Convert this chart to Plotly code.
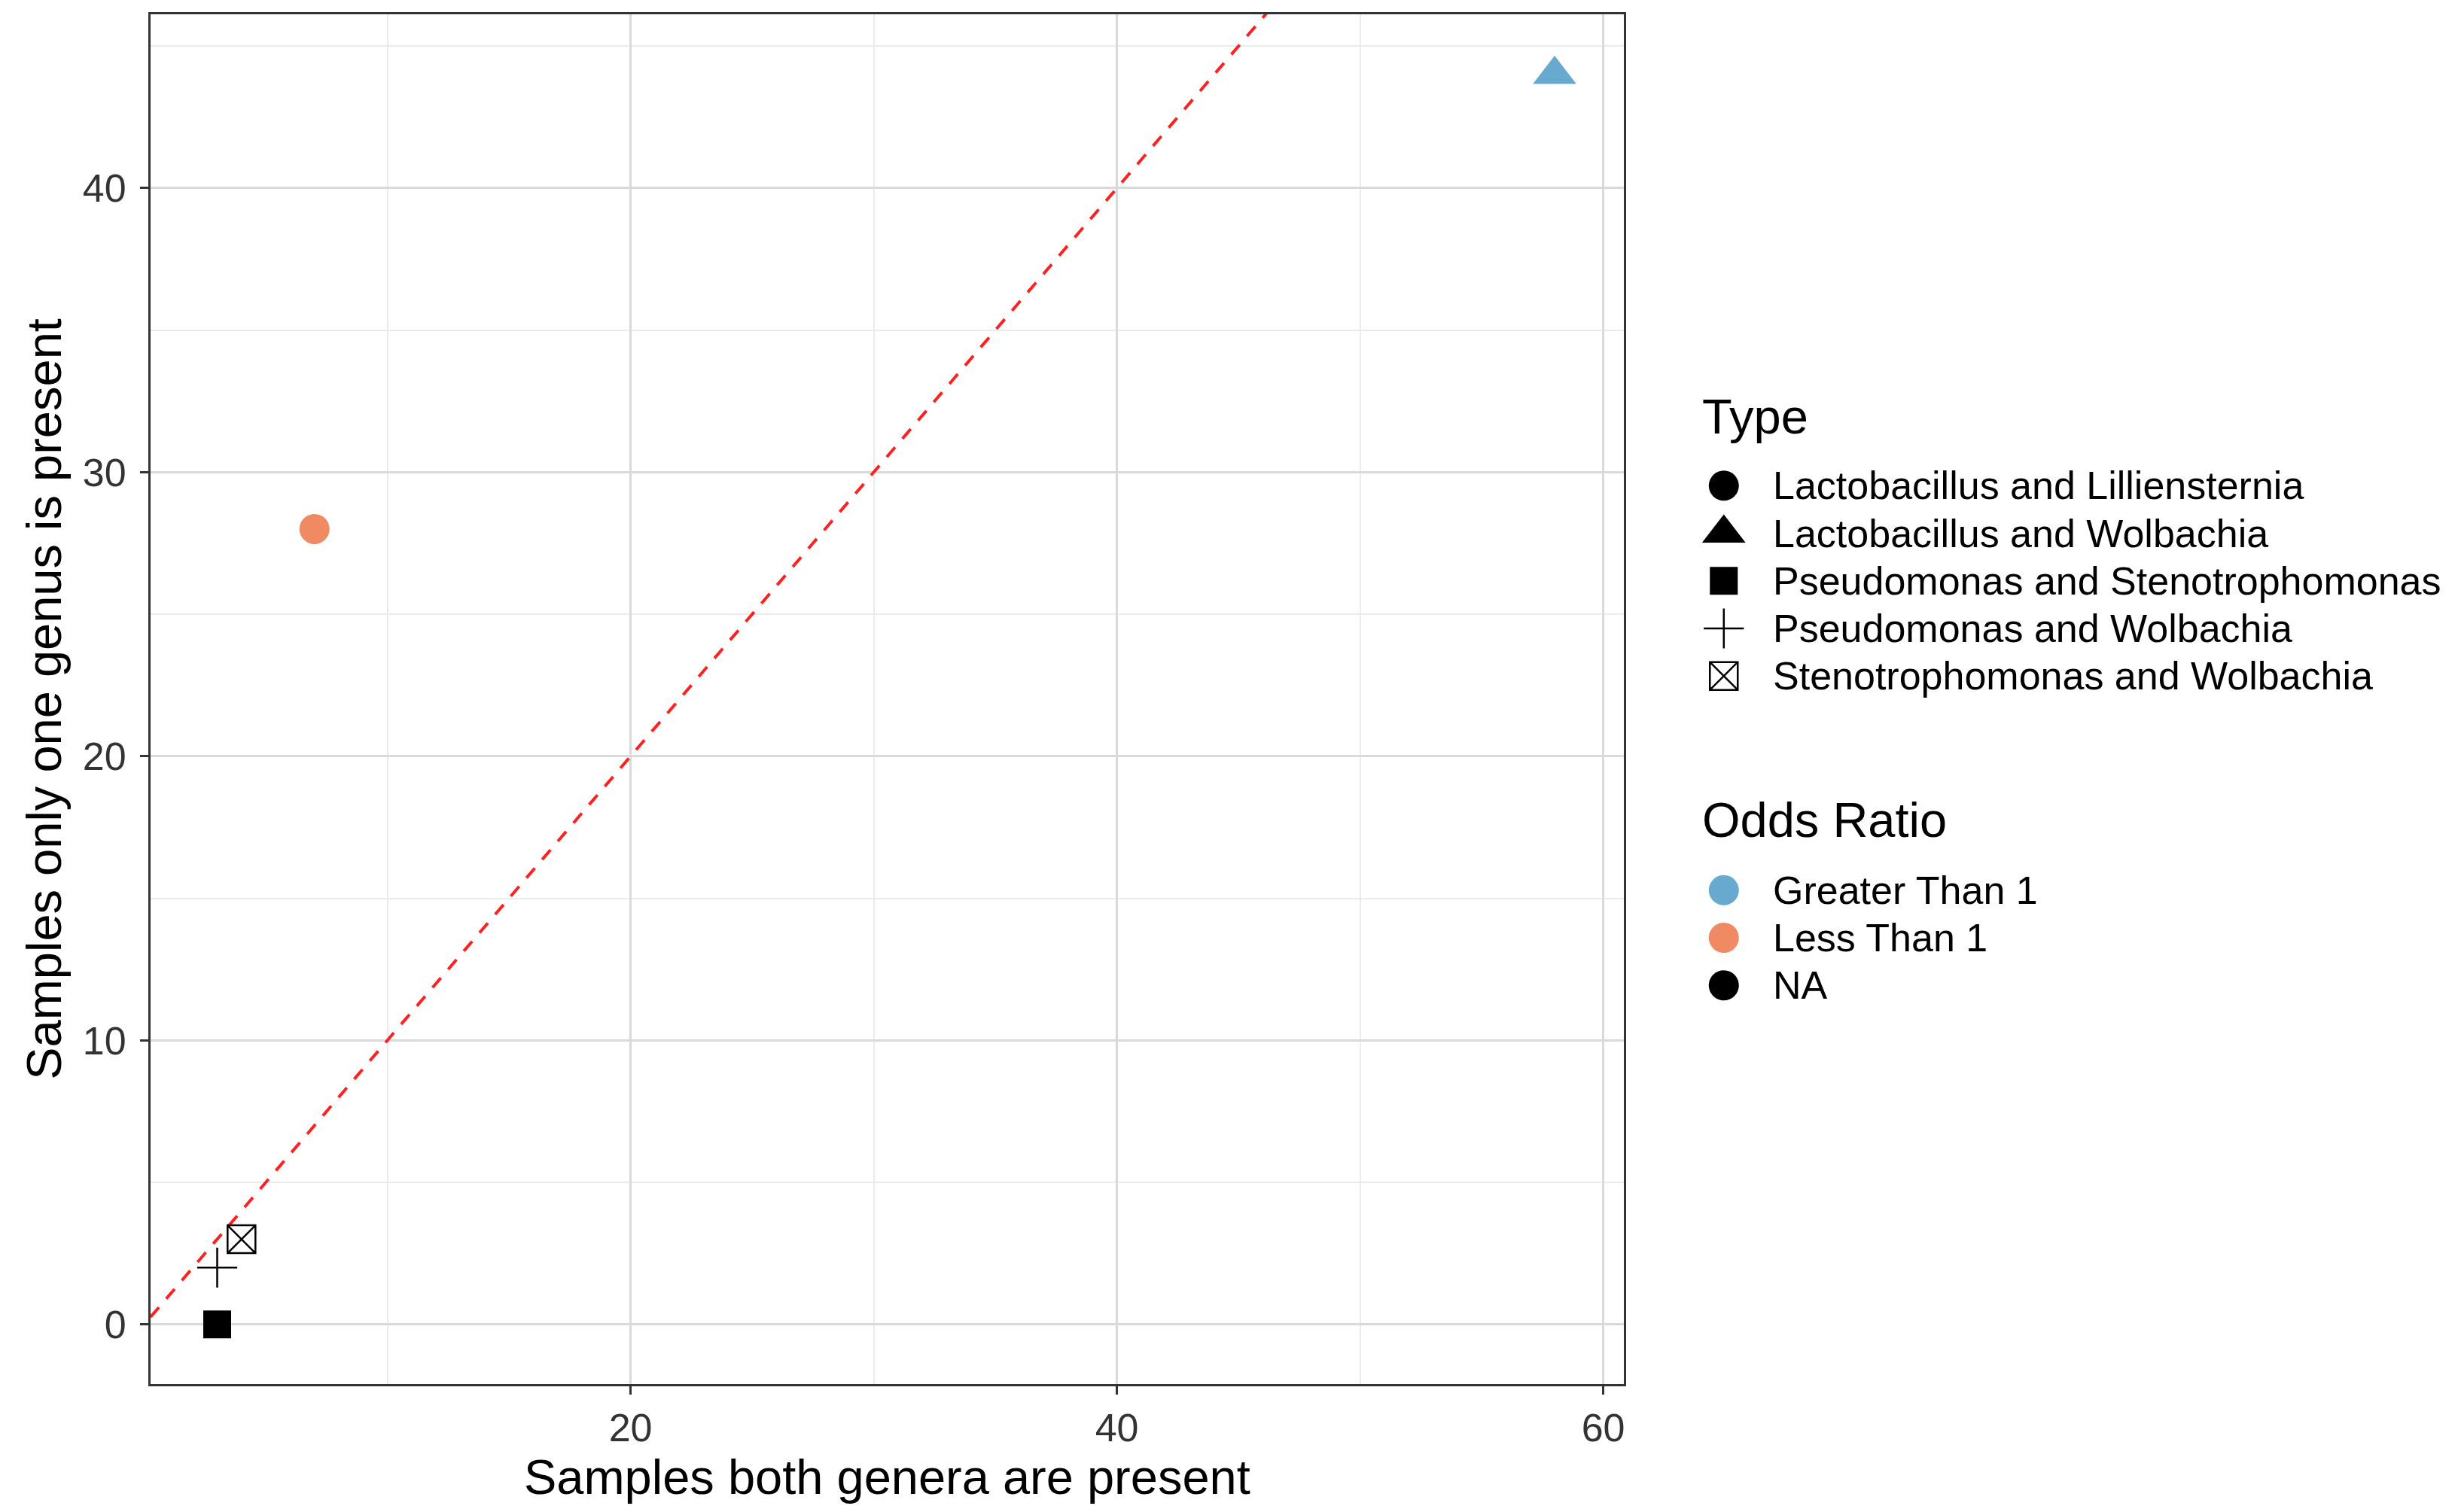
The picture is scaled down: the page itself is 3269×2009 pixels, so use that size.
import plotly.graph_objects as go

# data
pair_type = ["Lactobacillus and Lilliensternia", "Lactobacillus and Wolbachia",
             "Pseudomonas and Stenotrophomonas", "Pseudomonas and Wolbachia",
             "Stenotrophomonas and Wolbachia"]
both_present = [7, 58, 3, 3, 4]
one_present = [28, 44, 0, 2, 3]
odds_ratio = ["Less Than 1", "Greater Than 1", "NA", "NA", "NA"]
odds_levels = ["Greater Than 1", "Less Than 1", "NA"]

x_ticks = [20, 40, 60]
x_minor = [10, 30, 50]
y_ticks = [0, 10, 20, 30, 40]
y_minor = [5, 15, 25, 35, 45]

# abline
ref_slope = 1
ref_intercept = 0

# styles
shape_map = {
    "Lactobacillus and Lilliensternia": ("circle", 40),
    "Lactobacillus and Wolbachia": ("triangle-up", 50),
    "Pseudomonas and Stenotrophomonas": ("square", 37),
    "Pseudomonas and Wolbachia": ("cross-thin-open", 38),
    "Stenotrophomonas and Wolbachia": ("square-x-open", 37),
}
colour_map = {"Greater Than 1": "#67A9CF", "Less Than 1": "#EF8A62", "NA": "black"}

FONT = "Liberation Sans, Arial, Helvetica, sans-serif"
x_range = [0.26, 60.84]
y_range = [-2.1, 46.12]


def marker_for(sym, sz, col):
    is_open = sym.endswith("open")
    return dict(symbol=sym, size=sz, color=col,
                line=dict(color=col, width=2.5 if is_open else 0))


fig = go.Figure()

# red dashed y = x line
fig.add_trace(go.Scatter(
    x=x_range, y=[ref_intercept + ref_slope * v for v in x_range],
    mode="lines", line=dict(color="#FF2020", width=4, dash="17px,15px"),
    showlegend=False, hoverinfo="skip"))

for t, xv, yv, o in zip(pair_type, both_present, one_present, odds_ratio):
    sym, sz = shape_map[t]
    fig.add_trace(go.Scatter(
        x=[xv], y=[yv], mode="markers", name=t,
        marker=marker_for(sym, sz, colour_map[o]), showlegend=False))

# ggplot-style guide boxes, drawn on a hidden axis pair (rows run downwards)
key_x, label_x, title_x = 127, 190, 96
type_rows = list(range(len(pair_type)))
odds_rows = [r + 8.5 for r in range(len(odds_levels))]

for t, r in zip(pair_type, type_rows):
    sym, sz = shape_map[t]
    fig.add_trace(go.Scatter(
        x=[key_x], y=[r], mode="markers", xaxis="x2", yaxis="y2",
        marker=marker_for(sym, sz, "black"), showlegend=False, hoverinfo="skip"))
    fig.add_annotation(x=label_x, y=r, xref="x2", yref="y2", text=t,
                       showarrow=False, xanchor="left", yanchor="middle",
                       font=dict(size=52, color="black"))

for o, r in zip(odds_levels, odds_rows):
    fig.add_trace(go.Scatter(
        x=[key_x], y=[r], mode="markers", xaxis="x2", yaxis="y2",
        marker=dict(symbol="circle", size=40, color=colour_map[o]),
        showlegend=False, hoverinfo="skip"))
    fig.add_annotation(x=label_x, y=r, xref="x2", yref="y2", text=o,
                       showarrow=False, xanchor="left", yanchor="middle",
                       font=dict(size=52, color="black"))

for title, r in [("Type", type_rows[0] - 1.45), ("Odds Ratio", odds_rows[0] - 1.48)]:
    fig.add_annotation(x=title_x, y=r, xref="x2", yref="y2", text=title,
                       showarrow=False, xanchor="left", yanchor="middle",
                       font=dict(size=65, color="black"))

axis_common = dict(
    showline=True, mirror=True, linecolor="#333333", linewidth=3,
    ticks="outside", ticklen=11, tickwidth=2.5, tickcolor="#333333",
    showgrid=True, gridcolor="#DADADA", gridwidth=2.5, zeroline=False,
    tickfont=dict(size=52, color="#333333", family=FONT),
)

fig.update_layout(
    width=3269, height=2009,
    margin=dict(l=192, r=8, t=9, b=178),
    paper_bgcolor="white", plot_bgcolor="white",
    font=dict(family=FONT, color="black"),
    showlegend=False,
    xaxis=dict(axis_common, domain=[0, 0.638], range=x_range,
               tickmode="array", tickvals=x_ticks,
               minor=dict(tickmode="array", tickvals=x_minor, showgrid=True,
                          gridcolor="#EBEBEB", gridwidth=1.5),
               title=dict(text="Samples both genera are present",
                          font=dict(size=65, color="black"), standoff=14)),
    yaxis=dict(axis_common, range=y_range, tickmode="array", tickvals=y_ticks,
               ticklabelstandoff=8,
               minor=dict(tickmode="array", tickvals=y_minor, showgrid=True,
                          gridcolor="#EBEBEB", gridwidth=1.5),
               title=dict(text="Samples only one genus is present",
                          font=dict(size=65, color="black"), standoff=8)),
    xaxis2=dict(domain=[0.64, 1], range=[0, 1105], visible=False,
                fixedrange=True, anchor="y2"),
    yaxis2=dict(domain=[0, 1], range=[18.878, -9.905], visible=False,
                fixedrange=True, anchor="x2"),
)

fig.write_html("out.html")
